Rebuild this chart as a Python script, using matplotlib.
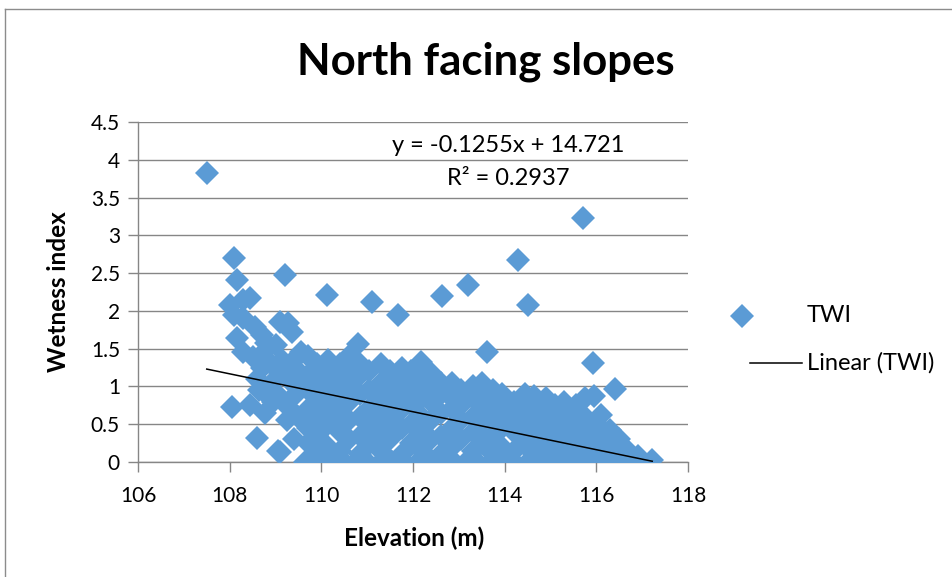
import matplotlib
matplotlib.use("Agg")
import matplotlib.pyplot as plt
from matplotlib.lines import Line2D
import numpy as np

plt.rcParams['font.family'] = ['Lato', 'DejaVu Sans']

# Elevation (m) and topographic wetness index, north facing slopes
elev_west = [107.50, 108.10, 108.16, 109.20, 108.00, 108.45, 108.30, 108.10, 108.30, 108.55,
             109.10, 109.27, 109.36, 108.15, 108.70, 108.80, 108.30, 108.50, 109.55, 108.05,
             108.45, 108.77, 108.60, 109.10, 109.10, 109.30, 108.70, 108.90, 109.00, 108.85,
             108.65, 108.95, 109.20, 109.40, 109.35, 109.45, 109.25, 109.50, 109.05, 109.40,
             108.80, 109.15, 108.60, 108.75, 109.00, 109.50, 109.60]
twi_west = [3.82, 2.70, 2.41, 2.48, 2.08, 2.17, 2.14, 1.95, 1.90, 1.79,
            1.85, 1.84, 1.72, 1.64, 1.68, 1.58, 1.46, 1.39, 1.46, 0.73,
            0.75, 0.65, 0.32, 0.13, 0.86, 0.72, 1.25, 1.30, 1.10, 1.00,
            0.95, 0.80, 1.20, 1.35, 1.05, 0.90, 0.55, 0.60, 0.15, 0.30,
            0.90, 1.35, 1.10, 1.45, 1.55, 1.20, 1.00]

elev_high = [110.12, 111.10, 111.68, 112.63, 113.20, 114.30, 114.50, 115.70, 115.93, 116.40,
             113.62, 112.18, 110.80, 117.22]
twi_high = [2.21, 2.12, 1.94, 2.20, 2.34, 2.67, 2.08, 3.23, 1.31, 0.96,
            1.46, 1.32, 1.56, 0.02]

elev_zero = [109.65, 109.95, 110.20, 110.50, 110.75, 111.00, 111.30, 111.55, 111.80, 112.10,
             112.35, 112.60, 112.90, 113.15, 113.40, 113.70, 113.95, 114.20, 114.50, 114.75,
             115.00, 115.30, 115.55, 115.80, 116.10, 116.35, 116.60, 116.85, 117.00]
twi_zero = [0.0] * len(elev_zero)

elev_mid = [109.70, 109.70, 109.70, 109.70, 109.70, 109.70,
            109.90, 109.90, 109.90, 109.90, 109.90, 109.90,
            110.15, 110.15, 110.15, 110.15, 110.15, 110.15,
            110.40, 110.40, 110.40, 110.40, 110.40, 110.40,
            110.60, 110.60, 110.60, 110.60, 110.60, 110.60,
            110.85, 110.85, 110.85, 110.85, 110.85, 110.85,
            111.05, 111.05, 111.05, 111.05, 111.05,
            111.30, 111.30, 111.30, 111.30, 111.30, 111.30,
            111.50, 111.50, 111.50, 111.50, 111.50,
            111.75, 111.75, 111.75, 111.75, 111.75, 111.75,
            111.95, 111.95, 111.95, 111.95, 111.95,
            112.20, 112.20, 112.20, 112.20, 112.20, 112.20,
            112.40, 112.40, 112.40, 112.40, 112.40,
            112.60, 112.60, 112.60, 112.60, 112.60,
            112.85, 112.85, 112.85, 112.85, 112.85,
            113.05, 113.05, 113.05, 113.05,
            113.30, 113.30, 113.30, 113.30, 113.30,
            113.50, 113.50, 113.50, 113.50, 113.50,
            113.75, 113.75, 113.75, 113.75, 113.75,
            113.95, 113.95, 113.95, 113.95,
            114.20, 114.20, 114.20, 114.20,
            114.45, 114.45, 114.45, 114.45,
            114.65, 114.65, 114.65, 114.65, 114.65,
            114.90, 114.90, 114.90, 114.90,
            115.10, 115.10, 115.10, 115.10,
            115.30, 115.30, 115.30, 115.30,
            115.55, 115.55, 115.55, 115.55,
            115.75, 115.75, 115.75, 115.75,
            115.95, 115.95, 115.95, 115.95,
            116.10, 116.10, 116.10, 116.10,
            116.30, 116.30, 116.30,
            116.50, 116.50, 116.50,
            116.70, 116.70,
            116.90]
twi_mid = [0.25, 0.45, 0.70, 0.95, 1.15, 1.40,
           0.10, 0.35, 0.60, 0.85, 1.05, 1.30,
           0.20, 0.50, 0.75, 0.95, 1.20, 1.35,
           0.15, 0.40, 0.65, 0.85, 1.10, 1.30,
           0.30, 0.55, 0.80, 1.00, 1.25, 1.40,
           0.10, 0.35, 0.60, 0.90, 1.15, 1.30,
           0.25, 0.50, 0.70, 0.95, 1.20,
           0.15, 0.40, 0.65, 0.85, 1.05, 1.30,
           0.30, 0.55, 0.80, 1.00, 1.20,
           0.10, 0.45, 0.70, 0.90, 1.10, 1.25,
           0.25, 0.50, 0.75, 1.00, 1.20,
           0.15, 0.40, 0.60, 0.85, 1.05, 1.25,
           0.30, 0.55, 0.80, 1.00, 1.18,
           0.10, 0.35, 0.65, 0.90, 1.05,
           0.20, 0.45, 0.70, 0.85, 1.05,
           0.30, 0.55, 0.75, 0.95,
           0.15, 0.40, 0.60, 0.85, 1.00,
           0.25, 0.50, 0.75, 0.95, 1.04,
           0.10, 0.35, 0.60, 0.80, 0.95,
           0.20, 0.45, 0.70, 0.90,
           0.15, 0.40, 0.60, 0.80,
           0.25, 0.50, 0.70, 0.90,
           0.10, 0.35, 0.55, 0.80, 0.88,
           0.20, 0.45, 0.65, 0.85,
           0.15, 0.35, 0.55, 0.75,
           0.25, 0.45, 0.65, 0.80,
           0.10, 0.35, 0.55, 0.75,
           0.20, 0.40, 0.60, 0.85,
           0.15, 0.35, 0.50, 0.88,
           0.10, 0.30, 0.45, 0.62,
           0.12, 0.25, 0.42,
           0.08, 0.22, 0.30,
           0.05, 0.15,
           0.08]

elevation = np.array(elev_west + elev_high + elev_zero + elev_mid)
twi = np.array(twi_west + twi_high + twi_zero + twi_mid)

# Linear trendline shown on the chart
slope = -0.1255
intercept = 14.721
r_squared = 0.2937

x_ticks = [106, 108, 110, 112, 114, 116, 118]
y_ticks = [0, 0.5, 1, 1.5, 2, 2.5, 3, 3.5, 4, 4.5]
y_tick_labels = ['0', '0.5', '1', '1.5', '2', '2.5', '3', '3.5', '4', '4.5']

W, H = 953, 577
fig = plt.figure(figsize=(W / 100, H / 100), dpi=100)
ax = fig.add_axes([138 / W, 1 - 462 / H, 550 / W, 340 / H])

blue = '#5B9BD5'
grid_c = '#868686'
MS = 12

ax.plot(elevation, twi, linestyle='none', marker='D', ms=MS, mfc=blue, mec=blue,
        mew=0, zorder=3, label='TWI')

xt = np.array([elevation.min(), elevation.max()])
ax.plot(xt, slope * xt + intercept, color='black', lw=1.1, zorder=4, label='Linear (TWI)')

ax.set_xlim(106, 118)
ax.set_ylim(0, 4.5)
ax.set_xticks(x_ticks)
ax.set_xticklabels([str(t) for t in x_ticks])
ax.set_yticks(y_ticks)
ax.set_yticklabels(y_tick_labels)
ax.grid(axis='y', color=grid_c, lw=1.0, zorder=0)
ax.set_axisbelow(True)

for side in ['top', 'right']:
    ax.spines[side].set_visible(False)
for side in ['left', 'bottom']:
    ax.spines[side].set_color(grid_c)
    ax.spines[side].set_linewidth(1.0)
ax.tick_params(axis='both', colors=grid_c, length=7, width=1.0, labelsize=15,
               labelcolor='black', direction='out')
ax.tick_params(axis='x', pad=10)
ax.tick_params(axis='y', pad=6)

# axis titles
fig.text(414 / W, 1 - 538 / H, 'Elevation (m)', ha='center', va='center',
         fontsize=17.5, fontweight='bold')
fig.text(59 / W, 1 - 292 / H, 'Wetness index', ha='center', va='center',
         rotation=90, fontsize=17.5, fontweight='bold')

fig.text(486 / W, 1 - 62 / H, 'North facing slopes', ha='center', va='center',
         fontsize=31.5, fontweight='bold')

fig.text(508 / W, 1 - 146 / H, f'y = {slope}x + {intercept}',
         ha='center', va='center', fontsize=17)
fig.text(508 / W, 1 - 178 / H, f'R² = {r_squared}',
         ha='center', va='center', fontsize=17)

# legend entries
fig.add_artist(Line2D([742 / W], [1 - 316 / H], linestyle='none', marker='D', ms=MS,
                      mfc=blue, mec=blue, mew=0, transform=fig.transFigure))
fig.text(807 / W, 1 - 316 / H, 'TWI', ha='left', va='center', fontsize=17)
fig.add_artist(Line2D([750 / W, 802 / W], [1 - 363 / H, 1 - 363 / H], color='black',
                      lw=1.1, transform=fig.transFigure))
fig.text(807 / W, 1 - 363 / H, 'Linear (TWI)', ha='left', va='center', fontsize=17)

# chart-area border
fig.add_artist(Line2D([5 / W, 5 / W], [0, 1 - 9 / H], color='#8c8c8c', lw=1.0,
                      transform=fig.transFigure))
fig.add_artist(Line2D([5 / W, 1], [1 - 9 / H, 1 - 9 / H], color='#8c8c8c', lw=1.0,
                      transform=fig.transFigure))

fig.savefig('out.png', dpi=100)
